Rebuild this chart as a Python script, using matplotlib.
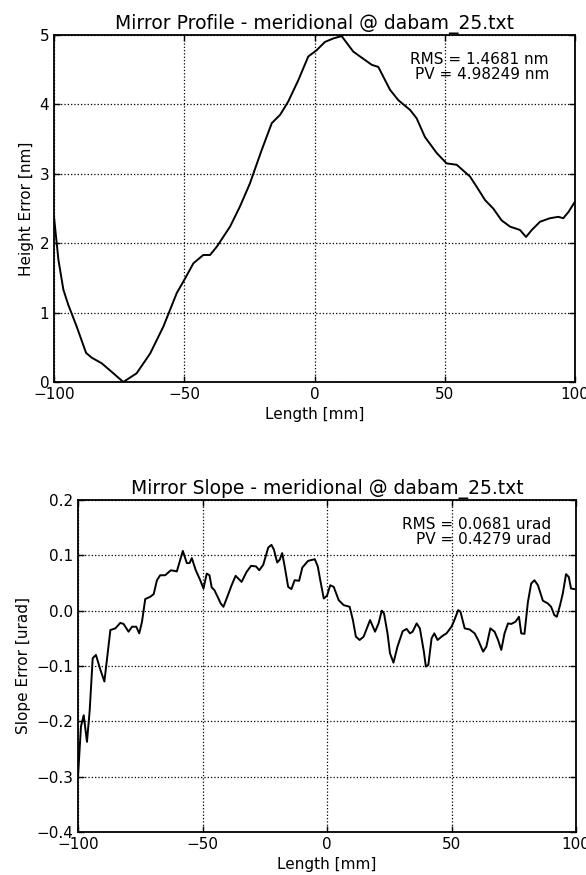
import matplotlib
matplotlib.use("Agg")
import matplotlib.pyplot as plt

# Height profile (mm, nm)
prof_x = [-100, -98.3, -96.4, -94.5, -91.3, -87.7, -85.5, -81.7, -77.2, -73.4, -68.3, -63.1, -58.0,
          -52.9, -49.7, -46.5, -42.7, -40.1, -37.5, -32.4, -28.6, -24.8, -20.3, -16.4, -13.2, -10.1,
          -6.2, -2.4, 0.8, 4.0, 7.2, 10.4, 14.9, 17.5, 22.0, 24.5, 26.4, 29.0, 32.2, 36.7, 39.2,
          42.4, 46.9, 50.7, 54.6, 59.7, 62.3, 65.5, 68.6, 71.8, 75.0, 78.9, 81.2, 83.4, 86.6, 90.4,
          93.6, 95.5, 97.5, 100]
prof_h = [2.38, 1.76, 1.33, 1.11, 0.80, 0.42, 0.35, 0.27, 0.125, 0.0, 0.125, 0.41, 0.80,
          1.28, 1.49, 1.71, 1.83, 1.83, 1.95, 2.24, 2.53, 2.86, 3.34, 3.73, 3.85, 4.04,
          4.35, 4.69, 4.78, 4.90, 4.95, 4.985, 4.76, 4.69, 4.57, 4.54, 4.40, 4.21, 4.06, 3.92, 3.80,
          3.53, 3.30, 3.15, 3.13, 2.96, 2.81, 2.62, 2.50, 2.33, 2.24, 2.19, 2.09, 2.19, 2.31, 2.36,
          2.38, 2.36, 2.45, 2.60]

# Slope profile (mm, urad)
slope_x = [-100, -98.8, -97.7, -96.4, -95.3, -94.1, -92.8, -91.0, -89.4, -88.4, -87.0, -85.0, -83.0,
           -81.7, -79.7, -78.3, -76.6, -75.4, -74.3, -73.0, -71.0, -69.6, -68.3, -67.0, -65.0, -62.7,
           -60.3, -57.9, -56.3, -55.2, -54.3, -52.7, -50.9, -49.6, -48.3, -47.2, -46.3, -45.2, -43.6,
           -42.7, -41.6, -40.3, -38.3, -36.7, -34.3, -32.3, -30.5, -28.5, -27.2, -25.6, -23.6, -22.3,
           -21.3, -20.0, -19.0, -18.0, -17.0, -15.6, -14.3, -13.0, -11.2, -9.9, -7.6, -4.9, -3.7,
           -2.7, -1.3, 0.0, 1.3, 2.7, 4.7, 6.7, 9.1, 10.4, 11.6, 13.1, 14.7, 17.3, 19.3, 20.7, 22.0,
           22.9, 24.3, 25.3, 26.7, 28.3, 30.4, 32.0, 33.3, 34.4, 36.0, 37.3, 38.9, 39.7, 40.7, 42.0,
           43.1, 44.4, 46.0, 46.9, 48.0, 50.0, 50.9, 52.7, 53.6, 55.3, 57.3, 59.3, 60.7, 62.7, 64.0,
           65.6, 67.3, 68.7, 70.0, 71.3, 72.7, 74.0, 75.7, 77.1, 78.0, 79.3, 80.7, 82.0, 83.3, 84.7,
           86.7, 88.7, 90.0, 91.3, 92.3, 93.6, 94.7, 96.0, 97.1, 98.0, 99.3]
slope_v = [-0.30, -0.209, -0.189, -0.237, -0.18, -0.086, -0.080, -0.107, -0.128, -0.089, -0.035, -0.032, -0.022,
           -0.024, -0.038, -0.029, -0.029, -0.041, -0.020, 0.021, 0.025, 0.030, 0.055, 0.064, 0.064, 0.073,
           0.071, 0.108, 0.086, 0.086, 0.095, 0.073, 0.055, 0.040, 0.067, 0.064, 0.042, 0.037, 0.022,
           0.013, 0.007, 0.022, 0.046, 0.063, 0.052, 0.070, 0.081, 0.080, 0.073, 0.083, 0.114, 0.119,
           0.110, 0.087, 0.092, 0.104, 0.080, 0.043, 0.039, 0.055, 0.054, 0.078, 0.090, 0.093, 0.080,
           0.055, 0.022, 0.027, 0.046, 0.043, 0.019, 0.010, 0.007, -0.017, -0.047, -0.053, -0.047, -0.017, -0.038, -0.023, 0.0,
           -0.005, -0.041, -0.077, -0.094, -0.065, -0.037, -0.033, -0.041, -0.038, -0.023, -0.032, -0.074, -0.101, -0.098, -0.050,
           -0.041, -0.053, -0.047, -0.044, -0.041, -0.029, -0.020, 0.001, -0.002, -0.032, -0.034, -0.041, -0.053, -0.074, -0.065,
           -0.032, -0.038, -0.053, -0.071, -0.041, -0.023, -0.024, -0.020, -0.011, -0.041, -0.042, 0.016, 0.049, 0.055, 0.046,
           0.018, 0.013, 0.007, -0.008, -0.011, 0.010, 0.031, 0.066, 0.061, 0.040, 0.039]

plt.rcParams['font.family'] = ['DejaVu Sans']
plt.rcParams['xtick.direction'] = 'in'
plt.rcParams['ytick.direction'] = 'in'
plt.rcParams['xtick.major.size'] = 4
plt.rcParams['ytick.major.size'] = 4

fig = plt.figure(figsize=(5.86, 8.75), dpi=100, facecolor='white')

W, H = 586.0, 875.0
ax1 = fig.add_axes([54 / W, 1 - 382 / H, (575 - 54) / W, (382 - 35) / H])
ax2 = fig.add_axes([78 / W, 1 - 832 / H, (576 - 78) / W, (832 - 500) / H])

fs = 11
for ax in (ax1, ax2):
    for s in ax.spines.values():
        s.set_linewidth(1.3)
    ax.grid(True, color='black', linestyle=':', linewidth=0.9)
    ax.tick_params(labelsize=fs, top=True, right=True, width=1)
    ax.set_xlim(-100, 100)
    ax.set_xticks([-100, -50, 0, 50, 100])

ax1.plot(prof_x, prof_h, color='black', linewidth=1.4)
ax1.set_ylim(0, 5)
ax1.set_yticks([0, 1, 2, 3, 4, 5])
ax1.set_title('Mirror Profile - meridional @ dabam_25.txt', fontsize=13.5, pad=4)
ax1.set_xlabel('Length [mm]', fontsize=fs)
ax1.set_ylabel('Height Error [nm]', fontsize=fs)
ax1.text(0.95, 0.95, 'RMS = 1.4681 nm\nPV = 4.98249 nm', transform=ax1.transAxes,
         ha='right', va='top', fontsize=fs, multialignment='right', linespacing=1.0)

ax2.plot(slope_x, slope_v, color='black', linewidth=1.4)
ax2.set_ylim(-0.4, 0.2)
ax2.set_yticks([-0.4, -0.3, -0.2, -0.1, 0.0, 0.1, 0.2])
ax2.set_yticklabels(['\u22120.4', '\u22120.3', '\u22120.2', '\u22120.1', '0.0', '0.1', '0.2'])
ax2.set_title('Mirror Slope - meridional @ dabam_25.txt', fontsize=13.5, pad=4)
ax2.set_xlabel('Length [mm]', fontsize=fs)
ax2.set_ylabel('Slope Error [urad]', fontsize=fs)
ax2.text(0.95, 0.95, 'RMS = 0.0681 urad\nPV = 0.4279 urad', transform=ax2.transAxes,
         ha='right', va='top', fontsize=fs, multialignment='right', linespacing=1.0)

fig.savefig('out.png', dpi=100, facecolor='white')
